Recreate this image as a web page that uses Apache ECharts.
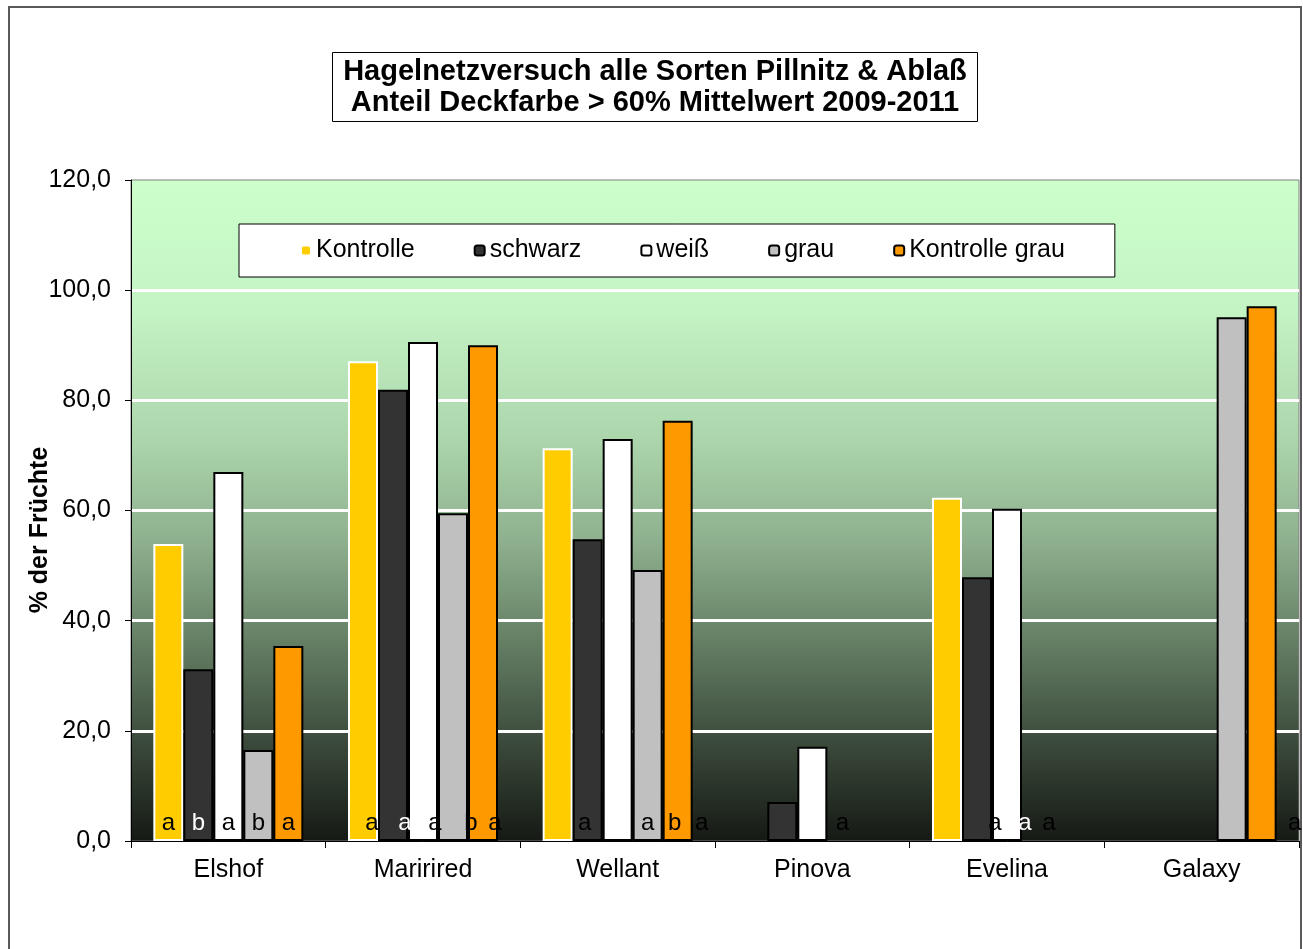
<!DOCTYPE html>
<html>
<head>
<meta charset="utf-8">
<title>Hagelnetzversuch</title>
<script src="https://cdn.jsdelivr.net/npm/echarts@6/dist/echarts.min.js"></script>
<style>
    html, body { margin: 0; padding: 0; background: #fff; }
    #main { width: 1303px; height: 949px; }
</style>
</head>
<body>
<div id="main"></div>
<script>
;(function () {

    // Sorten (categories)
    var sorten = ["Elshof", "Maririred", "Wellant", "Pinova", "Evelina", "Galaxy"];

    // % der Früchte, null = kein Balken
    var kontrolle      = [53.9, 87.1, 71.3, null, 62.3, null];
    var schwarz        = [31.2, 81.9, 54.8, 7.1, 47.9, null];
    var weiss          = [67.0, 90.6, 73.0, 17.1, 60.3, null];
    var grau           = [16.5, 59.5, 49.2, null, null, 95.1];
    var kontrolleGrau  = [35.4, 90.0, 76.3, null, null, 97.1];

    var yTicks = [0, 20, 40, 60, 80, 100, 120];

    // Signifikanz-Buchstaben: [Sorte, Balkenplatz, Buchstabe, weiß?]
    var letters = [
        [0, 0, "a", 0], [0, 1, "b", 1], [0, 2, "a", 0], [0, 3, "b", 0], [0, 4, "a", 0],
        [1, 0.3, "a", 0], [1, 1.4, "a", 1], [1, 2.4, "a", 0], [1, 3.6, "b", 0], [1, 4.4, "a", 0],
        [2, 0.9, "a", 0], [2, 3.0, "a", 0], [2, 3.9, "b", 0], [2, 4.8, "a", 0],
        [3, 3.0, "a", 0],
        [4, 1.6, "a", 0], [4, 2.6, "a", 1], [4, 3.4, "a", 0],
        [5, 5.1, "a", 0]
    ];

    var FONT = "Liberation Sans, Arial, sans-serif";
    var BAR_W = 30;

    function barSeries(name, data, color, border) {
        return {
            name: name,
            type: "bar",
            data: data,
            barWidth: BAR_W,
            barGap: "0%",
            itemStyle: {
                color: color,
                borderColor: border,
                borderWidth: 2
            }
        };
    }

    var letterSeries = {
        type: "custom",
        name: "letters",
        silent: true,
        z: 10,
        data: letters.map(function (l) { return [l[0], 0]; }),
        encode: { x: 0, y: 1 },
        renderItem: function (params, api) {
            var l = letters[params.dataIndex];
            var p = api.coord([api.value(0), 0]);
            var x = p[0] - BAR_W * 2.5 + (l[1] + 0.5) * BAR_W;
            return {
                type: "text",
                style: {
                    x: x,
                    y: p[1] - 18,
                    text: l[2],
                    fill: l[3] ? "#fff" : "#000",
                    font: "24px " + FONT,
                    align: "center",
                    verticalAlign: "middle"
                }
            };
        }
    };

    var chart = echarts.init(document.getElementById("main"));
    var option = {
        backgroundColor: "#fff",
        animation: false,
        title: {
            text: "Hagelnetzversuch alle Sorten Pillnitz & Ablaß\nAnteil Deckfarbe > 60% Mittelwert 2009-2011",
            left: 644,
            top: 52,
            textAlign: "center",
            padding: [4, 11, 4, 11],
            borderColor: "#000",
            borderWidth: 1,
            backgroundColor: "#fff",
            textStyle: {
                fontFamily: FONT,
                fontSize: 29,
                fontWeight: "bold",
                color: "#000",
                lineHeight: 31
            }
        },
        legend: {
            left: 239,
            top: 224,
            padding: [14, 50, 14, 61],
            itemGap: 59,
            itemWidth: 10,
            itemHeight: 10,
            backgroundColor: "#fff",
            borderColor: "#000",
            borderWidth: 1,
            data: ["Kontrolle", "schwarz", "weiß", "grau", "Kontrolle grau"],
            textStyle: { fontFamily: FONT, fontSize: 25, color: "#000" }
        },
        grid: {
            left: 131,
            right: 4,
            top: 180,
            bottom: 108,
            show: true,
            borderColor: "#808080",
            borderWidth: 1,
            backgroundColor: new echarts.graphic.LinearGradient(0, 0, 0, 1, [
                { offset: 0, color: "#ccffcc" },
                { offset: 0.2, color: "#c4f3c4" },
                { offset: 0.4, color: "#abd4ab" },
                { offset: 0.55, color: "#8daf8d" },
                { offset: 0.7, color: "#647e64" },
                { offset: 0.85, color: "#3b4a3b" },
                { offset: 1, color: "#151914" }
            ])
        },
        xAxis: {
            type: "category",
            data: sorten,
            axisLine: { lineStyle: { color: "#000", width: 1 } },
            axisTick: { show: true, length: 7, lineStyle: { color: "#000" } },
            axisLabel: { fontFamily: FONT, fontSize: 25, color: "#000", margin: 17 }
        },
        yAxis: {
            type: "value",
            min: yTicks[0],
            max: yTicks[yTicks.length - 1],
            interval: 20,
            axisLine: { show: true, lineStyle: { color: "#000", width: 1 } },
            axisTick: { show: true, length: 6, lineStyle: { color: "#000" } },
            axisLabel: {
                fontFamily: FONT, fontSize: 25, color: "#000", margin: 20,
                formatter: function (v) { return v.toFixed(1).replace(".", ","); }
            },
            splitLine: {
                show: true,
                lineStyle: {
                    width: 3,
                    color: ["transparent", "#fff", "#fff", "#fff", "#fff", "#fff", "transparent"]
                }
            }
        },
        graphic: [
            {
                type: "rect",
                shape: { x: 9, y: 7, width: 1292, height: 970 },
                style: { fill: "none", stroke: "#5a5a5a", lineWidth: 2 },
                silent: true,
                z: -10
            },
            {
                type: "text",
                x: 40,
                y: 530,
                rotation: Math.PI / 2,
                style: {
                    text: "% der Früchte",
                    font: "bold 25px " + FONT,
                    fill: "#000",
                    align: "center",
                    verticalAlign: "middle"
                }
            }
        ],
        series: [
            barSeries("Kontrolle", kontrolle, "#ffcc00", "#ffffff"),
            barSeries("schwarz", schwarz, "#333333", "#000"),
            barSeries("weiß", weiss, "#ffffff", "#000"),
            barSeries("grau", grau, "#c0c0c0", "#000"),
            barSeries("Kontrolle grau", kontrolleGrau, "#ff9900", "#000"),
            letterSeries
        ]
    };
    chart.setOption(option);
})();
</script>
</body>
</html>
